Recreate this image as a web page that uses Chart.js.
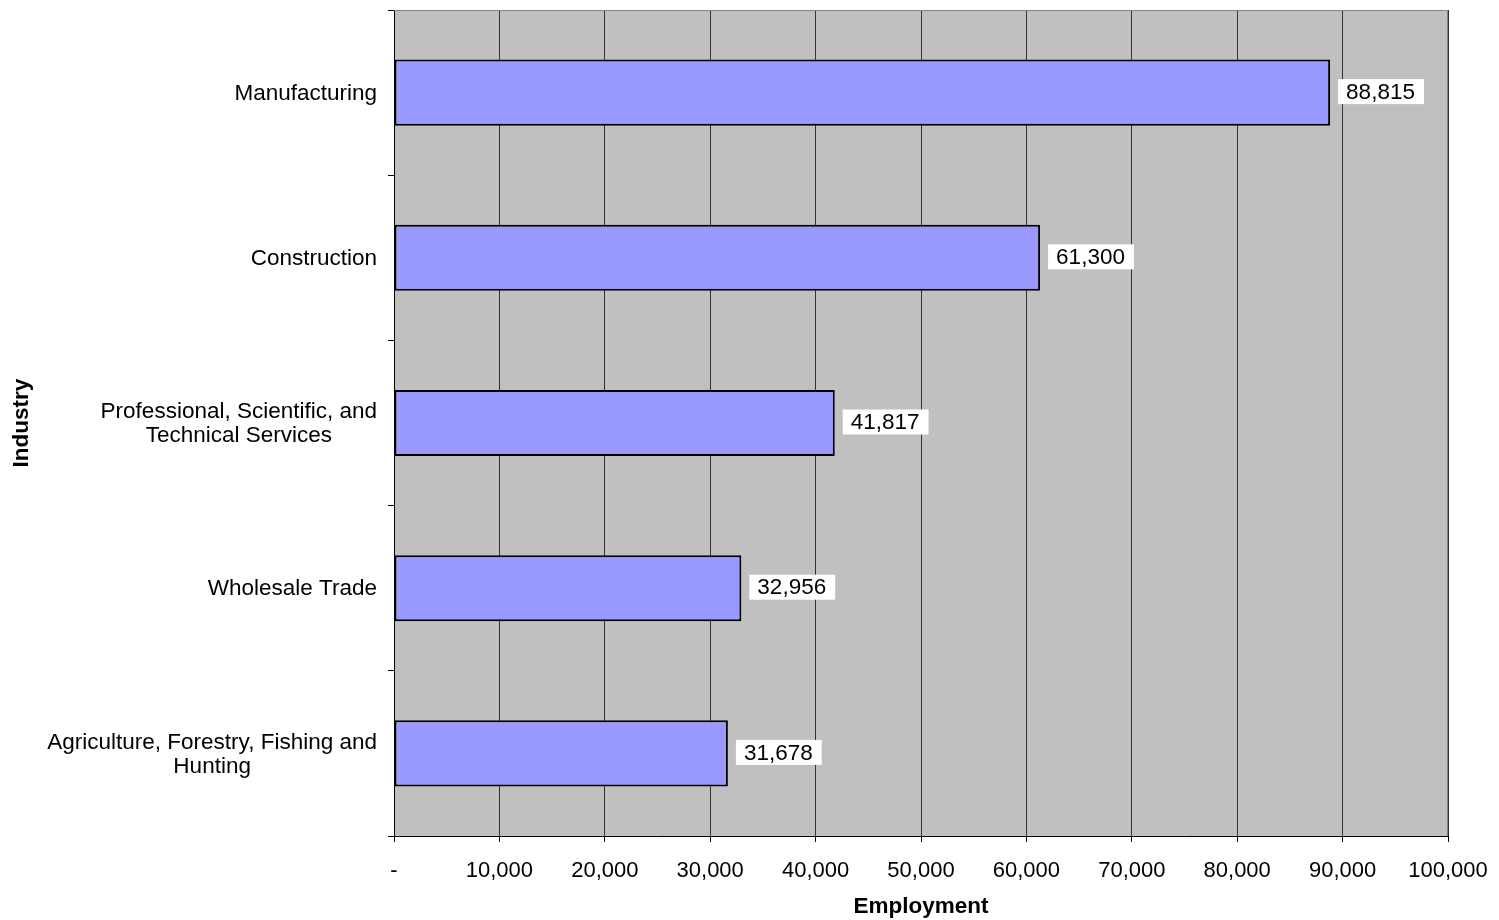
<!DOCTYPE html>
<html>
<head>
<meta charset="utf-8">
<script src="https://cdn.jsdelivr.net/npm/chart.js@4"></script>
<style>
  html, body { margin: 0; padding: 0; background: #fff; }
  #wrap { width: 1499px; height: 920px; }
</style>
</head>
<body>
<div id="wrap"><canvas id="chart" width="1499" height="920"></canvas></div>
<script>
// --- data ---
const industries = [
    'Manufacturing',
    'Construction',
    ['Professional, Scientific, and', 'Technical Services'],
    'Wholesale Trade',
    ['Agriculture, Forestry, Fishing and', 'Hunting']
];
const employment = [88815, 61300, 41817, 32956, 31678];
const xTicks = [0, 10000, 20000, 30000, 40000, 50000, 60000, 70000, 80000, 90000, 100000];

const FONT = 'Liberation Sans, Arial, sans-serif';
const fmt = v => v === 0 ? '-' : v.toLocaleString('en-US');

// plot background + border
const plotBg = {
    id: 'plotBg',
    beforeDraw(chart) {
        const { ctx, chartArea: a } = chart;
        ctx.save();
        ctx.fillStyle = '#c0c0c0';
        ctx.fillRect(a.left, a.top, a.right - a.left, a.bottom - a.top);
        ctx.restore();
    },
    afterDraw(chart) {
        const { ctx, chartArea: a } = chart;
        ctx.save();
        ctx.strokeStyle = '#808080';
        ctx.lineWidth = 1;
        ctx.beginPath();
        ctx.moveTo(a.left, a.top + 0.5);
        ctx.lineTo(a.right - 0.5, a.top + 0.5);
        ctx.lineTo(a.right - 0.5, a.bottom);
        ctx.stroke();
        ctx.restore();
    }
};

// category labels: block right-aligned, lines centred inside the block (Excel style)
const catLabels = {
    id: 'catLabels',
    afterDraw(chart) {
        const { ctx } = chart;
        const y = chart.scales.y;
        const right = y.right - 6 - 11;
        ctx.save();
        ctx.font = '22.5px ' + FONT;
        ctx.fillStyle = '#000';
        ctx.textAlign = 'center';
        ctx.textBaseline = 'middle';
        industries.forEach((lab, i) => {
            const lines = Array.isArray(lab) ? lab : [lab];
            const w = Math.max(...lines.map(l => ctx.measureText(l).width));
            const cy = y.getPixelForTick(i) + 1;
            const lh = 24;
            lines.forEach((l, k) => {
                ctx.fillText(l, right - w / 2, cy + (k - (lines.length - 1) / 2) * lh);
            });
        });
        ctx.restore();
    }
};

// value labels with white box
const valueLabels = {
    id: 'valueLabels',
    afterDatasetsDraw(chart) {
        const { ctx } = chart;
        const meta = chart.getDatasetMeta(0);
        ctx.save();
        ctx.font = '22.5px ' + FONT;
        ctx.textBaseline = 'middle';
        meta.data.forEach((bar, i) => {
            const txt = fmt(employment[i]);
            const w = ctx.measureText(txt).width;
            const x = bar.x + 8;
            const y = bar.y - 1;
            ctx.fillStyle = '#fff';
            ctx.fillRect(x, y - 12.5, w + 17, 25);
            ctx.fillStyle = '#000';
            ctx.fillText(txt, x + 8, y + 1);
        });
        ctx.restore();
    }
};

new Chart(document.getElementById('chart'), {
    type: 'bar',
    data: {
        labels: industries,
        datasets: [{
            data: employment,
            backgroundColor: '#9999ff',
            borderColor: '#000',
            borderWidth: 2,
            borderSkipped: false,
            categoryPercentage: 1,
            barPercentage: 0.4
        }]
    },
    options: {
        indexAxis: 'y',
        responsive: false,
        animation: false,
        layout: { padding: { top: 10, right: 51, left: 8, bottom: 0 } },
        plugins: { legend: { display: false }, tooltip: { enabled: false } },
        scales: {
            x: {
                min: 0,
                max: 100000,
                afterBuildTicks: s => { s.ticks = xTicks.map(v => ({ value: v })); },
                afterFit: s => { s.height = 920 - 836; s.paddingLeft = 0; s.paddingRight = 0; },
                border: { color: '#000', width: 1 },
                grid: { color: '#333', lineWidth: 1, tickLength: 6, tickColor: '#000' },
                ticks: {
                    color: '#000',
                    font: { family: FONT, size: 22 },
                    padding: 16,
                    maxRotation: 0,
                    autoSkip: false,
                    callback: v => fmt(v)
                },
                title: {
                    display: true,
                    text: 'Employment',
                    color: '#000',
                    font: { family: FONT, size: 22.5, weight: 'bold' },
                    padding: { top: 2, bottom: 0 }
                }
            },
            y: {
                afterFit: s => { s.width = 394 - 8; s.paddingTop = 0; s.paddingBottom = 0; },
                border: { color: '#000', width: 1 },
                grid: { offset: true, drawOnChartArea: false, tickLength: 6, tickColor: '#000' },
                ticks: {
                    color: 'rgba(0,0,0,0)',
                    font: { family: FONT, size: 22.5, lineHeight: 1.07 },
                    padding: 11
                },
                title: {
                    display: true,
                    text: 'Industry',
                    color: '#000',
                    font: { family: FONT, size: 22.5, weight: 'bold' },
                    padding: 0
                }
            }
        }
    },
    plugins: [plotBg, catLabels, valueLabels]
});
</script>
</body>
</html>
